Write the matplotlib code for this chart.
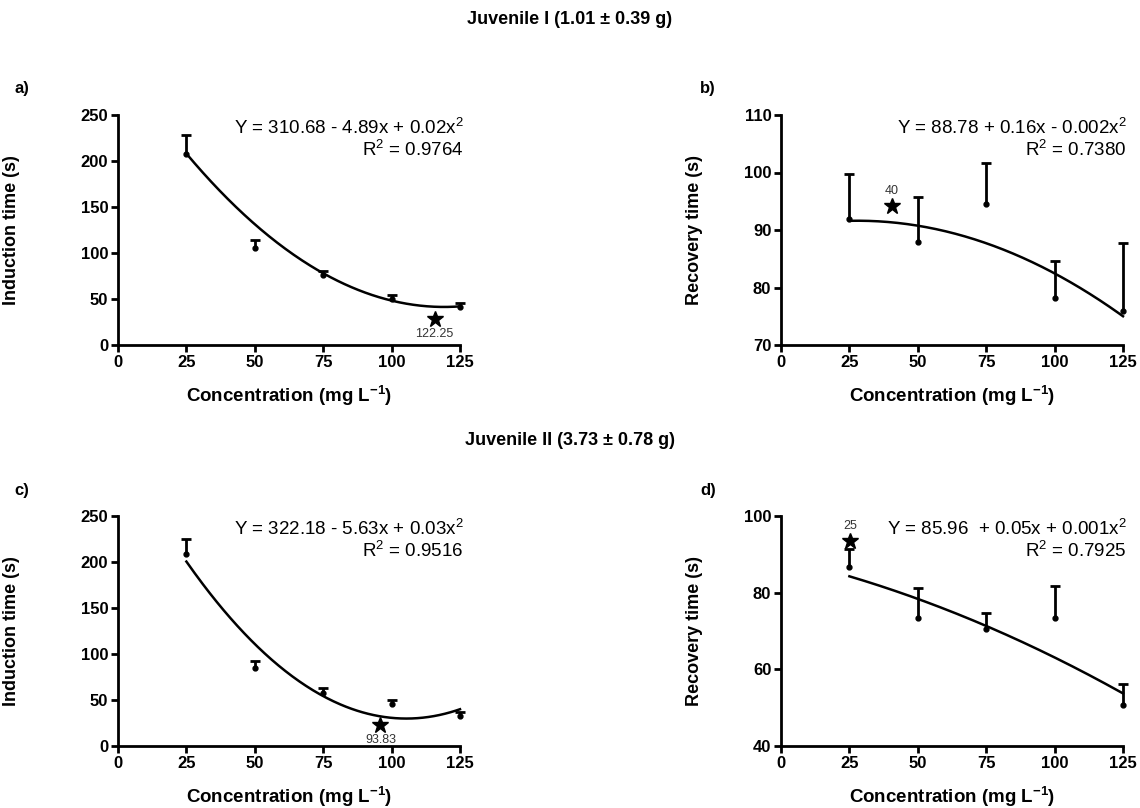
import numpy as np
import matplotlib
matplotlib.use('Agg')
from matplotlib import pyplot as plt

plt.rcParams['font.family'] = ['Liberation Sans', 'DejaVu Sans']
plt.rcParams['mathtext.default'] = 'regular'

conc = [25, 50, 75, 100, 125]

# Juvenile I
ind1_mean = [208, 105, 76, 49.6, 41.7]
ind1_err = [20, 9, 4, 4.5, 4.3]
ind1_fit = [308.25, -4.48, 0.0188]
rec1_mean = [91.9, 88.0, 94.5, 78.1, 76.0]
rec1_err = [7.8, 7.7, 7.1, 6.5, 11.7]
rec1_fit = [90.25, 0.098, -0.00176]

# Juvenile II
ind2_mean = [208.3, 84.9, 57.7, 45.4, 32.7]
ind2_err = [16.3, 7.3, 5.4, 4.3, 4.3]
ind2_fit = [323.1, -5.565, 0.0264]
rec2_mean = [86.6, 73.5, 70.4, 73.4, 50.8]
rec2_err = [4.7, 7.8, 4.2, 8.3, 5.3]
rec2_fit = [89.0, -0.166, -0.00093]

W, H = 1140, 808
fig = plt.figure(figsize=(W / 100, H / 100), dpi=100)


def panel(rect, means, errs, fit, ylim, yticks, ylabel, eq, r2, star, star_txt, txt_below, ylab_x):
    ax = fig.add_axes(rect)
    means = np.array(means)
    tops = means + np.array(errs)
    # error bars only go up, cap only on top
    ax.vlines(conc, means, tops, color='black', lw=2, clip_on=False, zorder=3)
    ax.plot(conc, tops, ls='none', marker='_', ms=6.5, mew=2, color='black', clip_on=False, zorder=3)
    ax.plot(conc, means, ls='none', marker='o', ms=3.5, color='black', clip_on=False, zorder=3)
    xs = np.linspace(conc[0], conc[-1], 200)
    ax.plot(xs, fit[0] + fit[1] * xs + fit[2] * xs ** 2, color='black', lw=1.8, clip_on=False)
    ax.plot(star[0], star[1], marker='*', color='black', ms=12, clip_on=False)
    dy = (ylim[1] - ylim[0]) * 0.065
    if txt_below:
        ax.text(star[0], star[1] - dy, star_txt, ha='center', va='center', fontsize=9, color='#333333')
    else:
        ax.text(star[0], star[1] + dy, star_txt, ha='center', va='center', fontsize=9, color='#333333')
    ax.set_xlim(0, 125)
    ax.set_ylim(*ylim)
    ax.set_xticks([0] + conc)
    ax.set_yticks(yticks)
    for s in ['top', 'right']:
        ax.spines[s].set_visible(False)
    for s in ['left', 'bottom']:
        ax.spines[s].set_linewidth(2)
    ax.tick_params(width=2, length=5, labelsize=12, pad=2)
    for lab in ax.get_xticklabels() + ax.get_yticklabels():
        lab.set_fontweight('bold')
    ax.set_ylabel(ylabel, fontsize=13, fontweight='bold')
    ax.yaxis.set_label_coords(ylab_x, 0.5)
    ax.set_xlabel('Concentration (mg L$^{-1}$)', fontsize=13.5, fontweight='bold')
    ax.xaxis.set_label_coords(0.5, -0.17)
    ax.text(1.01, 0.945, eq, transform=ax.transAxes, ha='right', va='center', fontsize=13.5)
    ax.text(1.01, 0.85, r2, transform=ax.transAxes, ha='right', va='center', fontsize=13.5)
    return ax


panel([118 / W, 1 - 345 / H, 342 / W, 230 / H], ind1_mean, ind1_err, ind1_fit, (0, 250),
      [0, 50, 100, 150, 200, 250], 'Induction time (s)',
      'Y = 310.68 - 4.89x + 0.02x$^2$', 'R$^2$ = 0.9764', (115.7, 28), '122.25', True, -0.287)
panel([781 / W, 1 - 345 / H, 342 / W, 230 / H], rec1_mean, rec1_err, rec1_fit, (70, 110),
      [70, 80, 90, 100, 110], 'Recovery time (s)',
      'Y = 88.78 + 0.16x - 0.002x$^2$', 'R$^2$ = 0.7380', (40.6, 94.2), '40', False, -0.228)
panel([118 / W, 1 - 746 / H, 342 / W, 230 / H], ind2_mean, ind2_err, ind2_fit, (0, 250),
      [0, 50, 100, 150, 200, 250], 'Induction time (s)',
      'Y = 322.18 - 5.63x + 0.03x$^2$', 'R$^2$ = 0.9516', (95.9, 22.5), '93.83', True, -0.287)
panel([781 / W, 1 - 746 / H, 342 / W, 230 / H], rec2_mean, rec2_err, rec2_fit, (40, 100),
      [40, 60, 80, 100], 'Recovery time (s)',
      'Y = 85.96  + 0.05x + 0.001x$^2$', 'R$^2$ = 0.7925', (25.3, 93.5), '25', False, -0.228)

fig.text(0.5, 1 - 20 / H, 'Juvenile I (1.01 ± 0.39 g)', ha='center', va='center', fontsize=13, fontweight='bold')
fig.text(0.5, 1 - 440 / H, 'Juvenile II (3.73 ± 0.78 g)', ha='center', va='center', fontsize=13, fontweight='bold')
for lab, x, y in [('a)', 22, 88), ('b)', 708, 88), ('c)', 22, 490), ('d)', 708, 490)]:
    fig.text(x / W, 1 - y / H, lab, ha='center', va='center', fontsize=12, fontweight='bold')

fig.savefig('out.png', dpi=100)
